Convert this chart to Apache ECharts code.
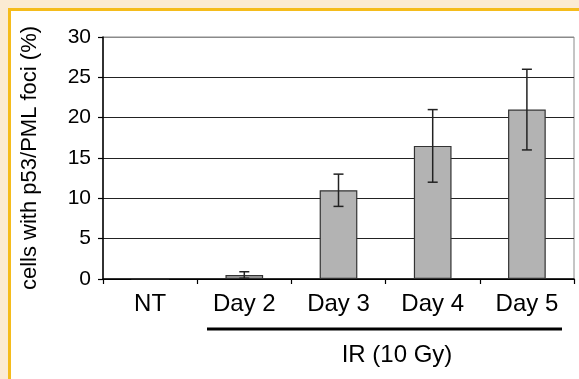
<!DOCTYPE html>
<html>
<head>
<meta charset="utf-8">
<script src="https://cdn.jsdelivr.net/npm/echarts@6/dist/echarts.min.js"></script>
<style>
html,body{margin:0;padding:0;width:579px;height:379px;overflow:hidden;background:#FBEBD3;}
#frame{position:absolute;left:8px;top:8px;width:571px;height:371px;background:#F5BC1C;}
#chart{position:absolute;left:11px;top:11px;width:568px;height:368px;background:#fff;}
</style>
</head>
<body>
<div id="frame"></div>
<div id="chart"></div>
<script>
var categories = ['NT', 'Day 2', 'Day 3', 'Day 4', 'Day 5'];
var values = [0, 0.5, 11, 16.5, 21];
var errLow = [null, 0.1, 9, 12, 16];
var errHigh = [null, 0.9, 13, 21, 26];
var yTicks = { min: 0, max: 30, interval: 5 };
var yName = 'cells with p53/PML foci (%)';
var groupLabel = 'IR (10 Gy)';

var FONT = '"Liberation Sans", Arial, sans-serif';
var chart = echarts.init(document.getElementById('chart'), null, { renderer: 'canvas' });

var errData = [];
for (var i = 0; i < categories.length; i++) {
  if (errLow[i] != null) errData.push([i, errLow[i], errHigh[i]]);
}

chart.setOption({
  animation: false,
  backgroundColor: '#ffffff',
  grid: { left: 90, right: 5, top: 26, bottom: 100, show: true, borderColor: '#8a8a8a', borderWidth: 1 },
  xAxis: {
    type: 'category',
    data: categories,
    axisLine: { lineStyle: { color: '#000', width: 1.5 } },
    axisTick: { show: true, length: 5, lineStyle: { color: '#000', width: 1.2 } },
    axisLabel: { color: '#000', fontSize: 24, fontFamily: FONT, margin: 13 },
    splitLine: { show: false }
  },
  yAxis: {
    type: 'value',
    min: yTicks.min, max: yTicks.max, interval: yTicks.interval,
    name: yName,
    nameLocation: 'middle',
    nameGap: 62,
    nameRotate: 90,
    nameTextStyle: { color: '#000', fontSize: 22, fontFamily: FONT },
    axisLine: { show: true, lineStyle: { color: '#000', width: 1.5 } },
    axisTick: { show: true, length: 5, lineStyle: { color: '#000', width: 1.2 } },
    axisLabel: { color: '#000', fontSize: 21, fontFamily: FONT, margin: 12 },
    splitLine: { show: true, lineStyle: { color: ['#000', '#222', '#222', '#222', '#222', '#222', '#8a8a8a'], width: 1.2 } }
  },
  series: [
    {
      type: 'bar',
      data: values,
      barWidth: '40%',
      itemStyle: { color: '#b3b3b3', borderColor: '#333', borderWidth: 1.2 },
      z: 2
    },
    {
      type: 'custom',
      data: errData,
      z: 5,
      renderItem: function (params, api) {
        var x = api.value(0);
        var lo = api.coord([x, api.value(1)]);
        var hi = api.coord([x, api.value(2)]);
        var w = 5;
        var st = { stroke: '#222', lineWidth: 1.5 };
        return {
          type: 'group',
          children: [
            { type: 'line', shape: { x1: lo[0], y1: lo[1], x2: hi[0], y2: hi[1] }, style: st },
            { type: 'line', shape: { x1: hi[0] - w, y1: hi[1], x2: hi[0] + w, y2: hi[1] }, style: st },
            { type: 'line', shape: { x1: lo[0] - w, y1: lo[1], x2: lo[0] + w, y2: lo[1] }, style: st }
          ]
        };
      }
    }
  ],
  graphic: [
    { type: 'line', shape: { x1: 196, y1: 318, x2: 551, y2: 318 }, style: { stroke: '#000', lineWidth: 3 } },
    { type: 'text', x: 386, y: 344, style: { text: groupLabel, fill: '#000', font: '24px ' + FONT, textAlign: 'center', textVerticalAlign: 'middle' } }
  ]
});
</script>
</body>
</html>
